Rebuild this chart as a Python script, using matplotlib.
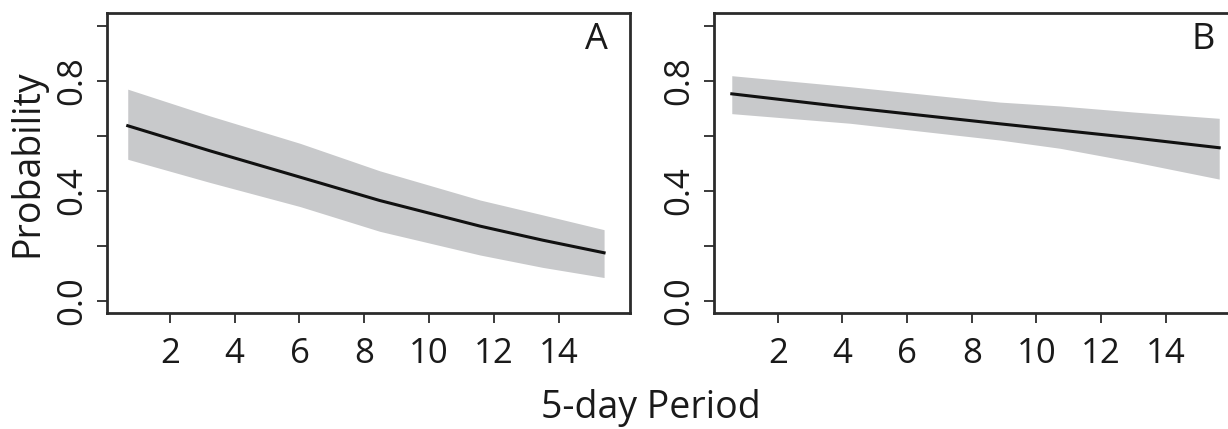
import matplotlib
matplotlib.use("Agg")
import matplotlib.pyplot as plt

# Panel A data
xa = [0.7, 3.23, 6.02, 8.48, 11.57, 13.5, 15.4]
line_a = [0.636, 0.545, 0.449, 0.364, 0.271, 0.220, 0.174]
upper_a = [0.769, 0.672, 0.572, 0.472, 0.366, 0.312, 0.258]
lower_a = [0.514, 0.430, 0.342, 0.252, 0.166, 0.121, 0.084]

# Panel B data
xb = [0.58, 4.24, 8.87, 10.73, 12.99, 15.65]
line_b = [0.752, 0.702, 0.643, 0.620, 0.592, 0.556]
upper_b = [0.818, 0.778, 0.722, 0.708, 0.686, 0.663]
lower_b = [0.680, 0.645, 0.584, 0.554, 0.505, 0.442]

xticks = [2, 4, 6, 8, 10, 12, 14]
yticks = [0.0, 0.2, 0.4, 0.6, 0.8, 1.0]
ylabels = ["0.0", "", "0.4", "", "0.8", ""]

plt.rcParams['font.family'] = ['Open Sans', 'DejaVu Sans']

W, H = 1228, 429
fig = plt.figure(figsize=(W / 100, H / 100), dpi=100)

def px_axes(left, top, right, bottom):
    return fig.add_axes([left / W, 1 - bottom / H, (right - left) / W, (bottom - top) / H])

axA = px_axes(107, 13, 630, 313)
axB = px_axes(714, 13, 1237, 313)

band_color = "#c8c9cb"
spine_color = "#2b2b2b"
text_color = "#1a1a1a"

for ax, x, ln, up, lo, xlim, lab in [
    (axA, xa, line_a, upper_a, lower_a, (0.06, 16.2), "A"),
    (axB, xb, line_b, upper_b, lower_b, (0.03, 16.2), "B"),
]:
    ax.fill_between(x, lo, up, color=band_color, linewidth=0)
    ax.plot(x, ln, color="#111111", linewidth=2.2)
    ax.set_xlim(*xlim)
    ax.set_ylim(-0.045, 1.046)
    ax.set_xticks(xticks)
    ax.set_yticks(yticks)
    ax.set_yticklabels(ylabels, rotation=90, va="center")
    ax.tick_params(axis="both", direction="out", length=7, width=1.3,
                   color=spine_color, labelsize=25, labelcolor=text_color)
    ax.tick_params(axis="x", pad=10)
    ax.tick_params(axis="y", pad=6)
    for s in ax.spines.values():
        s.set_linewidth(2.0)
        s.set_color(spine_color)
    ax.text(0.935, 0.91, lab, transform=ax.transAxes, fontsize=26,
            ha="center", va="center", color=text_color)

axA.set_ylabel("Probability", fontsize=27, color=text_color, labelpad=6)
fig.text(651 / W, 1 - 418 / H, "5-day Period", fontsize=27, ha="center",
         va="baseline", color=text_color)

fig.savefig("out.png", dpi=100)
